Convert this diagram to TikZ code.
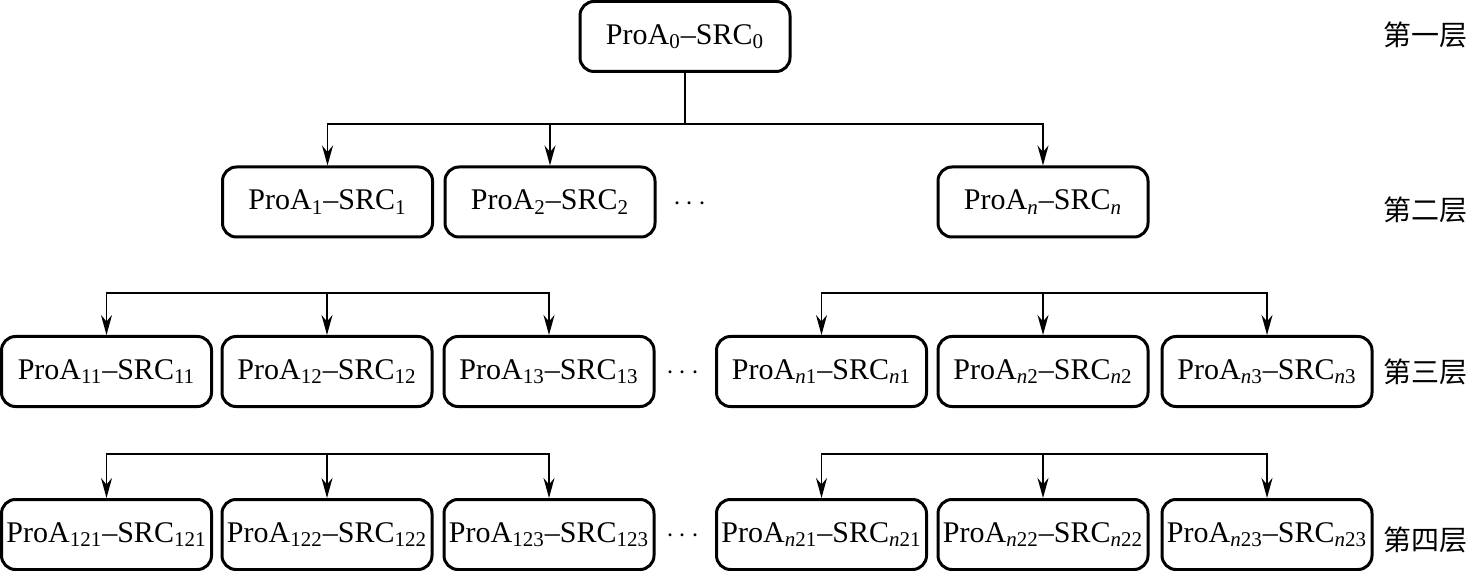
\documentclass[tikz,border=0pt]{standalone}
\usepackage{fontspec}
\setmainfont{Liberation Serif}
\newfontfamily\cjk{Noto Sans CJK SC}
\usepackage{tikz}
\usetikzlibrary{arrows.meta}

\newcommand{\ps}[1]{ProA\textsubscript{#1}--SRC\textsubscript{#1}}

\tikzset{
  box/.style={draw, line width=1.5pt, rounded corners=7pt, minimum width=105pt,
    minimum height=35pt, inner sep=0pt, font=\fontsize{15}{18}\selectfont},
  arr/.style={-{Stealth[length=10pt,width=5.5pt]}, line width=0.75pt},
  layer/.style={font=\cjk\fontsize{14}{16}\selectfont},
  gap/.style={font=\bfseries\fontsize{14}{16}\selectfont}
}

\begin{document}
\begin{tikzpicture}[x=0.5pt, y=-0.5pt]
\useasboundingbox (0,0) rectangle (1471,571);

\node[box] (r0) at (685,36.5) {\ps{0}};

\node[box] (a1) at (327.5,202) {\ps{1}};
\node[box] (a2) at (550,202) {\ps{2}};
\node[box] (an) at (1043,202) {\ps{\textit{n}}};
\node[gap] (d2) at (690,204) {$\cdots$};

\node[box] (b11) at (106.5,371.5) {\ps{11}};
\node[box] (b12) at (327,371.5) {\ps{12}};
\node[box] (b13) at (549,371.5) {\ps{13}};
\node[gap] (d3) at (683,373) {$\cdots$};
\node[box] (bn1) at (821.5,371.5) {\ps{\textit{n}1}};
\node[box] (bn2) at (1043,371.5) {\ps{\textit{n}2}};
\node[box] (bn3) at (1267,371.5) {\ps{\textit{n}3}};

\node[box] (c121) at (106.5,534.5) {\ps{121}};
\node[box] (c122) at (327,534.5) {\ps{122}};
\node[box] (c123) at (549,534.5) {\ps{123}};
\node[gap] (d4) at (683,536) {$\cdots$};
\node[box] (cn21) at (821.5,534.5) {\ps{\textit{n}21}};
\node[box] (cn22) at (1043,534.5) {\ps{\textit{n}22}};
\node[box] (cn23) at (1267,534.5) {\ps{\textit{n}23}};

\node[layer] (l1) at (1425,35) {第一层};
\node[layer] (l2) at (1425,210) {第二层};
\node[layer] (l3) at (1425,372) {第三层};
\node[layer] (l4) at (1425,540) {第四层};

\coordinate (j1) at (685,124);
\coordinate (j3l) at (327,293);
\coordinate (j3r) at (1043,293);
\coordinate (j4l) at (327,454);
\coordinate (j4r) at (1043,454);

\draw[line width=0.75pt] (r0.south) -- (j1);
\draw[arr] (j1) -| (a1.north);
\draw[arr] (j1) -| (a2.north);
\draw[arr] (j1) -| (an.north);

\draw[arr] (j3l) -| (b11.north);
\draw[arr] (j3l) -- (b12.north);
\draw[arr] (j3l) -| (b13.north);
\draw[arr] (j3r) -| (bn1.north);
\draw[arr] (j3r) -- (bn2.north);
\draw[arr] (j3r) -| (bn3.north);

\draw[arr] (j4l) -| (c121.north);
\draw[arr] (j4l) -- (c122.north);
\draw[arr] (j4l) -| (c123.north);
\draw[arr] (j4r) -| (cn21.north);
\draw[arr] (j4r) -- (cn22.north);
\draw[arr] (j4r) -| (cn23.north);

\end{tikzpicture}
\end{document}
